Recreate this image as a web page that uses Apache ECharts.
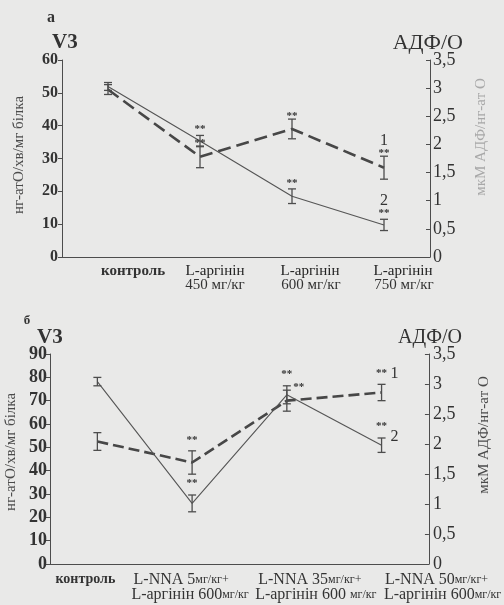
<!DOCTYPE html>
<html>
<head>
<meta charset="utf-8">
<script src="https://cdn.jsdelivr.net/npm/echarts@6/dist/echarts.min.js"></script>
<style>
html,body{margin:0;padding:0;background:#e9e9e8;}
#c{width:504px;height:605px;}
</style>
</head>
<body>
<div id="c"></div>
<script>
// ---- data: panel а ----
const catsA = ['контроль', 'L-аргінін\n450 мг/кг', 'L-аргінін\n600 мг/кг', 'L-аргінін\n750 мг/кг'];
const v3A = [51, 30.5, 39, 27.2];          // curve 1 (dashed), left axis
const v3ErrA = [1.5, 3.3, 3.0, 3.5];
const v3SigA = [0, 1, 1, 1];
const adpoA = [3.03, 2.06, 1.08, 0.57];    // curve 2 (solid), right axis
const adpoErrA = [0.07, 0.1, 0.13, 0.1];
const adpoSigA = [0, 1, 1, 1];
const leftTicksA = [0, 10, 20, 30, 40, 50, 60];
const rightTicks = ['0', '0,5', '1', '1,5', '2', '2,5', '3', '3,5'];

// ---- data: panel б ----
const catsB = ['контроль', 'L-NNA 5мг/кг+\nL-аргінін 600мг/кг', 'L-NNA 35мг/кг+\nL-аргінін 600 мг/кг', 'L-NNA 50мг/кг+\nL-аргінін 600мг/кг'];
const v3B = [52.5, 43.5, 70, 73.5];
const v3ErrB = [3.8, 5, 4.5, 3.5];
const v3SigB = [0, 1, 1, 1];
const adpoB = [3.04, 1.01, 2.82, 1.98];
const adpoErrB = [0.07, 0.14, 0.15, 0.12];
const adpoSigB = [0, 1, 1, 1];
const leftTicksB = [0, 10, 20, 30, 40, 50, 60, 70, 80, 90];

const axisName = 'нг-атО/хв/мг білка';
const axisNameR = 'мкМ АДФ/нг-ат О';

const INK = '#333';
const LINE = '#4d4d4d';
const SERIF = '"Liberation Serif", "DejaVu Serif", serif';

function pack(vals, errs, sigs) {
  return vals.map((v, i) => [i, v, errs[i], sigs[i]]);
}

function errRender(cfg) {
  return function (params, api) {
    const i = api.value(0), v = api.value(1), e = api.value(2), s = api.value(3);
    const p = api.coord([i, v]);
    const top = api.coord([i, v + e]);
    const bot = api.coord([i, v - e]);
    const x = p[0], cw = 4;
    const st = {stroke: LINE, lineWidth: 1.3};
    const ch = [
      {type: 'line', shape: {x1: x, y1: top[1], x2: x, y2: bot[1]}, style: st},
      {type: 'line', shape: {x1: x - cw, y1: top[1], x2: x + cw, y2: top[1]}, style: st},
      {type: 'line', shape: {x1: x - cw, y1: bot[1], x2: x + cw, y2: bot[1]}, style: st}
    ];
    let sy = top[1] - cfg.starGap, sx = x;
    if (cfg.starShift && cfg.starShift[i]) {
      sx = x + cfg.starShift[i][0];
      sy = top[1] + cfg.starShift[i][1];
    }
    if (s) {
      ch.push({type: 'text', x: sx, y: sy,
        style: {text: '**', font: 'bold 11px ' + SERIF, fill: INK,
          align: 'center', verticalAlign: 'middle', textAlign: 'center', textVerticalAlign: 'middle'}});
    }
    if (cfg.num && params.dataIndex === cfg.last) {
      ch.push({type: 'text', x: sx + cfg.num[1][0], y: sy + cfg.num[1][1],
        style: {text: cfg.num[0], font: '16px ' + SERIF, fill: INK,
          align: 'center', verticalAlign: 'middle', textAlign: 'center', textVerticalAlign: 'middle'}});
    }
    return {type: 'group', children: ch};
  };
}

function yAxisCfg(grid, pos, max, interval, fontSize, bold, margin, labels) {
  return {
    type: 'value', gridIndex: grid, position: pos, min: 0, max: max, interval: interval,
    splitLine: {show: false},
    axisLine: {show: true, lineStyle: {color: LINE, width: 1}},
    axisTick: {show: true, inside: pos === 'right', length: 4, lineStyle: {color: LINE}},
    axisLabel: {
      color: INK, fontFamily: SERIF, fontSize: fontSize, fontWeight: bold ? 'bold' : 'normal', margin: margin,
      formatter: function (v) {
        const idx = Math.round(v / interval);
        return labels[idx] !== undefined ? String(labels[idx]) : '';
      }
    }
  };
}

// per-line horizontal shifts of the category labels (as printed in the source figure)
function padStyle(shift, base) {
  const o = Object.assign({}, base);
  if (shift > 0) o.padding = [0, 0, 0, 2 * shift];
  else if (shift < 0) o.padding = [0, -2 * shift, 0, 0];
  return o;
}

function xAxisCfgA(grid, cats, margin) {
  const s1 = [25, 15, 18, 19], s2 = [0, 15, 19, 20];
  const rich = {};
  cats.forEach((c, i) => {
    rich['k' + i] = padStyle(s1[i], {fontFamily: SERIF, fontSize: 15, fontWeight: i === 0 ? 'bold' : 'normal', color: i === 0 ? INK : '#222', lineHeight: 14});
    rich['n' + i] = padStyle(s2[i], {fontFamily: SERIF, fontSize: 15, color: INK, lineHeight: 14});
  });
  return {
    type: 'category', gridIndex: grid, data: cats, boundaryGap: true,
    axisLine: {lineStyle: {color: LINE, width: 1}},
    axisTick: {alignWithLabel: true, length: 3, lineStyle: {color: LINE}},
    axisLabel: {
      interval: 0, margin: margin, color: INK, fontFamily: SERIF, fontSize: 15, lineHeight: 14,
      formatter: function (val, idx) {
        const parts = val.split('\n');
        let out = '{k' + idx + '|' + parts[0] + '}';
        if (parts[1]) out += '\n{n' + idx + '|' + parts[1] + '}';
        return out;
      },
      rich: rich
    }
  };
}

function xAxisCfgB(grid, cats, margin) {
  const s1 = [-12, -11, 23, 55], s2 = [0, -2, 29, 61];
  const rich = {};
  cats.forEach((c, i) => {
    rich['k' + i] = padStyle(s1[i], {fontFamily: SERIF, fontSize: 14, fontWeight: 'bold', color: INK, lineHeight: 15});
    rich['a' + i] = padStyle(Math.max(s1[i], 0), {fontFamily: SERIF, fontSize: 16, color: INK, lineHeight: 15});
    rich['u' + i] = padStyle(Math.min(s1[i], 0), {fontFamily: SERIF, fontSize: 12, color: INK, lineHeight: 15});
    rich['c' + i] = padStyle(Math.max(s2[i], 0), {fontFamily: SERIF, fontSize: 16, color: INK, lineHeight: 15});
    rich['v' + i] = padStyle(Math.min(s2[i], 0), {fontFamily: SERIF, fontSize: 12, color: INK, lineHeight: 15});
  });
  const split = s => {
    const m = s.match(/^(.*?)(мг\/кг\+?)$/);
    return m ? [m[1], m[2]] : [s, ''];
  };
  return {
    type: 'category', gridIndex: grid, data: cats, boundaryGap: true,
    axisLine: {lineStyle: {color: LINE, width: 1}},
    axisTick: {alignWithLabel: true, length: 3, lineStyle: {color: LINE}},
    axisLabel: {
      interval: 0, margin: margin, color: INK, fontFamily: SERIF, fontSize: 14, lineHeight: 15,
      formatter: function (val, idx) {
        const parts = val.split('\n');
        if (parts.length === 1) return '{k' + idx + '|' + val + '}';
        const l1 = split(parts[0]), l2 = split(parts[1]);
        return '{a' + idx + '|' + l1[0] + '}{u' + idx + '|' + l1[1] + '}\n{c' + idx + '|' + l2[0] + '}{v' + idx + '|' + l2[1] + '}';
      },
      rich: rich
    }
  };
}

function txt(x, y, text, font, align, fill, rot) {
  return {type: 'text', x: x, y: y, rotation: rot || 0,
    style: {text: text, font: font, fill: fill || INK, align: align || 'center', verticalAlign: 'middle',
      textAlign: align || 'center', textVerticalAlign: 'middle'}};
}

const chart = echarts.init(document.getElementById('c'), null, {renderer: 'canvas'});
const dashedA = {color: '#474747', width: 2.6, type: [13, 6]};
const dashedB = {color: '#474747', width: 2.6, type: [11, 5]};
const solid = {color: '#555', width: 1.1};
const R = Math.PI / 2;

chart.setOption({
  backgroundColor: '#e9e9e8',
  animation: false,
  grid: [
    {left: 62, width: 368, top: 60, height: 197},
    {left: 50, width: 381, top: 354, height: 210}
  ],
  xAxis: [xAxisCfgA(0, catsA, 7), xAxisCfgB(1, catsB, 8)],
  yAxis: [
    yAxisCfg(0, 'left', 60, 10, 16, true, 4, leftTicksA),
    yAxisCfg(0, 'right', 3.5, 0.5, 18, false, 3, rightTicks),
    yAxisCfg(1, 'left', 90, 10, 18, true, 3, leftTicksB),
    yAxisCfg(1, 'right', 3.5, 0.5, 18, false, 4, rightTicks)
  ],
  graphic: [
    txt(51, 18, 'а', 'bold 16px ' + SERIF),
    txt(52, 43, 'V3', 'bold 21px ' + SERIF, 'left'),
    txt(463, 43, 'АДФ/О', '22px ' + SERIF, 'right'),
    txt(19, 155, axisName, '15px ' + SERIF, 'center', '#4a4a4a', R),
    txt(481, 137, axisNameR, '15px ' + SERIF, 'center', '#a8a8a8', R),
    txt(27, 321, 'б', 'bold 13px ' + SERIF),
    txt(37, 338, 'V3', 'bold 21px ' + SERIF, 'left'),
    txt(462, 338, 'АДФ/О', '20px ' + SERIF, 'right'),
    txt(11, 452, axisName, '15px ' + SERIF, 'center', '#4a4a4a', R),
    txt(484, 435, axisNameR, '15px ' + SERIF, 'center', '#4a4a4a', R)
  ],
  series: [
    {type: 'line', xAxisIndex: 0, yAxisIndex: 0, data: v3A, symbol: 'none', lineStyle: dashedA, z: 3},
    {type: 'line', xAxisIndex: 0, yAxisIndex: 1, data: adpoA, symbol: 'none', lineStyle: solid, z: 3},
    {type: 'custom', xAxisIndex: 0, yAxisIndex: 0, data: pack(v3A, v3ErrA, v3SigA), z: 4,
      renderItem: errRender({starGap: 3, num: ['1', [0, -12]], last: 3})},
    {type: 'custom', xAxisIndex: 0, yAxisIndex: 1, data: pack(adpoA, adpoErrA, adpoSigA), z: 4,
      renderItem: errRender({starGap: 6, num: ['2', [0, -12]], last: 3})},
    {type: 'line', xAxisIndex: 1, yAxisIndex: 2, data: v3B, symbol: 'none', lineStyle: dashedB, z: 3},
    {type: 'line', xAxisIndex: 1, yAxisIndex: 3, data: adpoB, symbol: 'none', lineStyle: solid, z: 3},
    {type: 'custom', xAxisIndex: 1, yAxisIndex: 2, data: pack(v3B, v3ErrB, v3SigB), z: 4,
      renderItem: errRender({starGap: 11, starShift: {2: [12, -3]}, num: ['1', [13, 0]], last: 3})},
    {type: 'custom', xAxisIndex: 1, yAxisIndex: 3, data: pack(adpoB, adpoErrB, adpoSigB), z: 4,
      renderItem: errRender({starGap: 12, num: ['2', [13, 11]], last: 3})}
  ]
});
</script>
</body>
</html>
